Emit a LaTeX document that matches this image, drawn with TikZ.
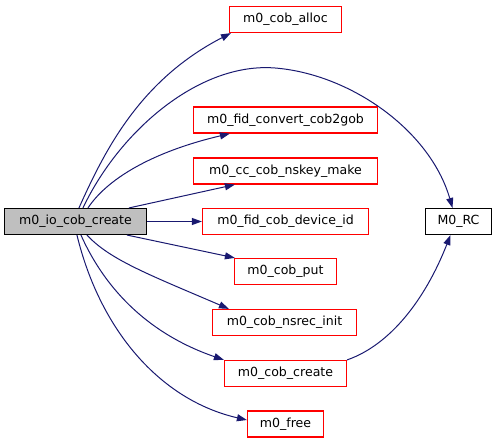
\documentclass[tikz,border=0pt]{standalone}
\usepackage{fontspec}
\setmainfont{DejaVu Sans}
\usetikzlibrary{arrows.meta,calc}
\definecolor{edgeblue}{HTML}{191970}
\definecolor{mainfill}{HTML}{BFBFBF}
\definecolor{boxred}{HTML}{FF0000}
\tikzset{
  fn/.style={draw=boxred, line width=1.2bp, fill=white, minimum height=26bp, inner sep=0pt, font=\fontsize{12.6}{15}\selectfont},
  mainfn/.style={fn, draw=black, line width=1.1bp, fill=mainfill},
  leaf/.style={fn, draw=black, line width=1.1bp},
  call/.style={draw=edgeblue, line width=1bp, -{Triangle[length=10bp,width=7bp]}, fill=none},
}
\begin{document}
\begin{tikzpicture}[x=1bp,y=-1bp]
\useasboundingbox (0,0) rectangle (496,443);
\node[mainfn, minimum width=142bp] (main) at (75.5,221.5) {m0\_io\_cob\_create};
\node[fn, minimum width=112bp] (alloc) at (285.5,19.5) {m0\_cob\_alloc};
\node[fn, minimum width=184bp] (conv) at (285.5,120) {m0\_fid\_convert\_cob2gob};
\node[fn, minimum width=184bp] (nskey) at (285.5,171) {m0\_cc\_cob\_nskey\_make};
\node[fn, minimum width=166bp] (dev) at (285.5,221.5) {m0\_fid\_cob\_device\_id};
\node[fn, minimum width=102bp] (put) at (285.5,271.5) {m0\_cob\_put};
\node[fn, minimum width=144bp] (nsrec) at (284.5,322.5) {m0\_cob\_nsrec\_init};
\node[fn, minimum width=122bp] (create) at (285.5,373.5) {m0\_cob\_create};
\node[fn, minimum width=76bp] (free) at (285.5,424) {m0\_free};
\node[leaf, minimum width=66bp] (rc) at (458.5,221.5) {M0\_RC};
% edges
\draw[call] ($(main.north west)+(75,0)$) .. controls (105,150) and (140,80) .. ($(alloc.south west)+(2,0)$);
\draw[call] ($(main.north west)+(79,0)$) .. controls (120,130) and (200,62) .. (275,68) .. controls (350,74) and (430,130) .. ($(rc.north)+(-6,0)$);
\draw[call] ($(main.north west)+(84,0)$) .. controls (110,175) and (160,150) .. ($(conv.south west)+(37,0)$);
\draw[call] ($(main.north west)+(125,0)$) -- ($(nskey.south west)+(42,0)$);
\draw[call] (main.east) -- (dev.west);
\draw[call] ($(main.south west)+(123,0)$) -- ($(put.north west)+(1,0)$);
\draw[call] ($(main.south west)+(83,0)$) .. controls (110,260) and (150,275) .. ($(nsrec.north west)+(17,0)$);
\draw[call] ($(main.south west)+(77,0)$) .. controls (110,300) and (160,338) .. (create.north west);
\draw[call] ($(main.south west)+(73,0)$) .. controls (100,330) and (160,400) .. ($(free.west)+(0,-4)$);
\draw[call] (create.north east) .. controls (390,345) and (425,300) .. ($(rc.south)+(-8,0)$);
\end{tikzpicture}
\end{document}
